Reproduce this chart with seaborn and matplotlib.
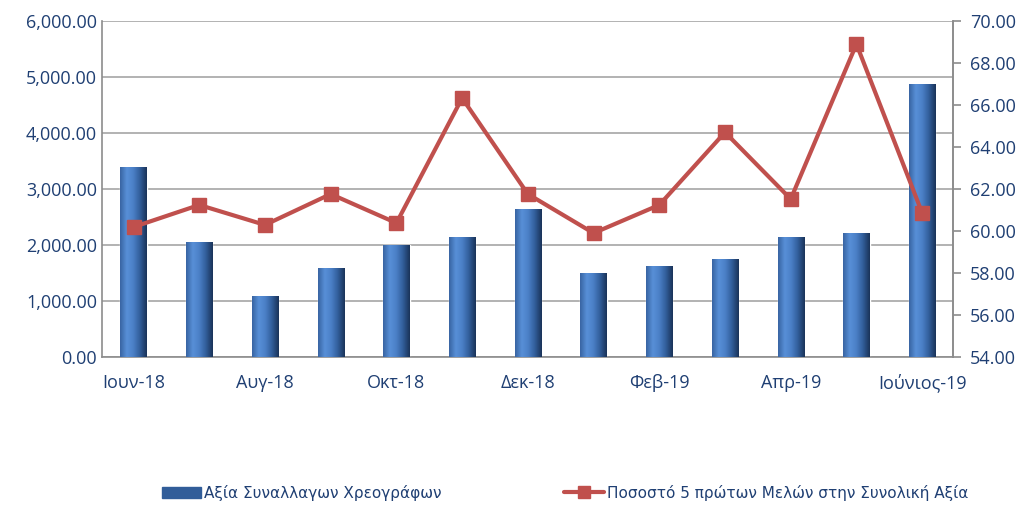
import matplotlib
matplotlib.use('Agg')
import matplotlib.pyplot as plt
import seaborn as sns
import numpy as np
import pandas as pd
from matplotlib.colors import LinearSegmentedColormap

months = ['Ιουν-18', 'Ιουλ-18', 'Αυγ-18', 'Σεπ-18', 'Οκτ-18', 'Νοε-18', 'Δεκ-18',
          'Ιαν-19', 'Φεβ-19', 'Μαρ-19', 'Απρ-19', 'Μάι-19', 'Ιούνιος-19']
trade_value = [3390, 2050, 1090, 1590, 2000, 2140, 2640, 1500, 1625, 1750, 2140, 2210, 4875]
top5_share = [60.19, 61.24, 60.29, 61.76, 60.38, 66.33, 61.76, 59.90, 61.24, 64.70, 61.52, 68.90, 60.86]
shown_labels = ['Ιουν-18', 'Αυγ-18', 'Οκτ-18', 'Δεκ-18', 'Φεβ-19', 'Απρ-19', 'Ιούνιος-19']

bar_label = 'Αξία Συναλλαγων Χρεογράφων'
line_label = 'Ποσοστό 5 πρώτων Μελών στην Συνολική Αξία'

navy = '#1F3F73'
grey = '#8C8C8C'

sns.set_style('white')
plt.rcParams['font.family'] = ['Open Sans', 'DejaVu Sans']

df = pd.DataFrame({'month': months, 'value': trade_value, 'share': top5_share})

fig = plt.figure(figsize=(10.27, 5.12), dpi=100)
ax = fig.add_axes([0.0993, 0.3027, 0.8287, 0.6563])

sns.barplot(data=df, x='month', y='value', color='#4A7CC2', width=0.4,
            ax=ax, zorder=2, saturation=1)

# cylinder-like gradient on the bars
cmap = LinearSegmentedColormap.from_list(
    'cyl', ['#3864A2', '#5890D8', '#4A7FC6', '#315D99', '#1A3359'])
grad = np.linspace(0, 1, 64).reshape(1, -1)
for p in ax.patches:
    x0, y0 = p.get_x(), p.get_y()
    w, h = p.get_width(), p.get_height()
    im = ax.imshow(grad, cmap=cmap, aspect='auto', extent=[x0, x0 + w, y0, y0 + h],
                   zorder=3, interpolation='bicubic')
    im.set_clip_path(p)

ax.set_xlim(-0.48, len(months) - 0.53)
ax.set_ylim(0, 6000)
ax.set_yticks(np.arange(0, 6001, 1000))
ax.set_yticklabels([f'{v:,.2f}' for v in np.arange(0, 6001, 1000)])
ax.yaxis.grid(True, color='#A6A6A6', linewidth=1.2, zorder=0)
ax.set_axisbelow(True)
ax.set_xticks(range(len(months)))
ax.set_xticklabels([m if m in shown_labels else '' for m in months])
ax.set_xlabel('')
ax.set_ylabel('')
ax.tick_params(axis='both', colors=navy, labelsize=13, length=0)
ax.tick_params(axis='x', pad=12)
for s in ['left', 'bottom', 'right']:
    ax.spines[s].set_color(grey)
    ax.spines[s].set_linewidth(1.2)
ax.spines['top'].set_visible(False)

ax2 = ax.twinx()
ax2.plot(np.arange(len(months)), df['share'], color='#C0504D', linewidth=3,
         marker='s', markersize=10.5, zorder=5)
ax2.set_ylim(54, 70)
ax2.set_yticks(np.arange(54, 70.1, 2))
ax2.set_yticklabels([f'{v:.2f}' for v in np.arange(54, 70.1, 2)])
ax2.tick_params(axis='y', colors=navy, labelsize=13, length=6, width=1.2, pad=6)
ax2.tick_params(axis='y', color=grey)
for s in ['top', 'left', 'bottom']:
    ax2.spines[s].set_visible(False)
ax2.spines['right'].set_color(grey)
ax2.spines['right'].set_linewidth(1.2)

handles = [plt.Rectangle((0, 0), 1, 1, color='#315D99'),
           plt.Line2D([], [], color='#C0504D', linewidth=3, marker='s', markersize=9)]
fig.legend(handles, [bar_label, line_label], loc='lower center', ncol=2,
           bbox_to_anchor=(0.55, -0.005), frameon=False, columnspacing=8,
           handlelength=2.6, handletextpad=0.2,
           prop={'family': ['Liberation Sans Narrow', 'DejaVu Sans'], 'size': 11})
for t in fig.legends[0].get_texts():
    t.set_color(navy)

plt.savefig('out.png', dpi=100)
